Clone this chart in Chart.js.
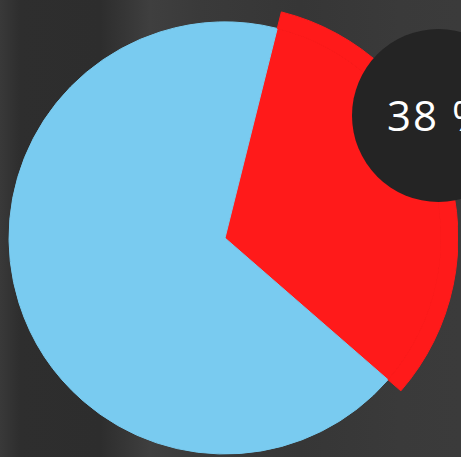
<!DOCTYPE html>
<html>
<head>
<meta charset="utf-8">
<script src="https://cdn.jsdelivr.net/npm/chart.js@4.4.1/dist/chart.umd.min.js"></script>
<style>
  html, body { margin: 0; padding: 0; width: 461px; height: 457px; overflow: hidden; }
  body {
    position: relative;
    background:
      linear-gradient(90deg, #393939 0px, #2e2e2e 20px, #2d2d2d 100px, #3f3f3f 150px, #3a3a3a 200px, #363636 300px, #3a3a3a 400px, #3b3b3b 461px);
  }
  #wrap { position: absolute; left: -8px; top: 5px; width: 466px; height: 466px; }
  #badge {
    position: absolute; left: 352px; top: 29px; width: 173px; height: 173px;
    border-radius: 50%; background: #242424;
    display: flex; align-items: center; justify-content: flex-start;
    box-sizing: border-box; padding-left: 35px; padding-bottom: 2px;
    color: #ffffff; font-family: "Open Sans", sans-serif; font-size: 42px; font-weight: 400;
    letter-spacing: 2px;
    white-space: nowrap;
  }
</style>
</head>
<body>
<div id="wrap"><canvas id="c"></canvas></div>
<div id="badge"><span id="badgeText"></span></div>
<script>
const categories = ['Highlighted', 'Rest'];
const sliceValues = [32.5, 67.5];
const sliceColors = ['#ff1a1a', '#79cbf0'];
const badgeLabel = '38 %';

document.getElementById('badgeText').textContent = badgeLabel;

new Chart(document.getElementById('c'), {
  type: 'pie',
  data: {
    labels: categories,
    datasets: [
      {
        data: sliceValues,
        backgroundColor: [sliceColors[0], 'rgba(0,0,0,0)'],
        borderColor: [sliceColors[0], 'rgba(0,0,0,0)'],
        borderWidth: 1,
        weight: 17
      },
      {
        data: sliceValues,
        backgroundColor: sliceColors,
        borderColor: sliceColors,
        borderWidth: 1,
        weight: 216
      }
    ]
  },
  options: {
    responsive: true,
    maintainAspectRatio: false,
    animation: false,
    rotation: 14,
    radius: 233,
    hoverOffset: 0,
    layout: { padding: 0 },
    plugins: { legend: { display: false }, tooltip: { enabled: false } },
    events: []
  }
});
</script>
</body>
</html>
